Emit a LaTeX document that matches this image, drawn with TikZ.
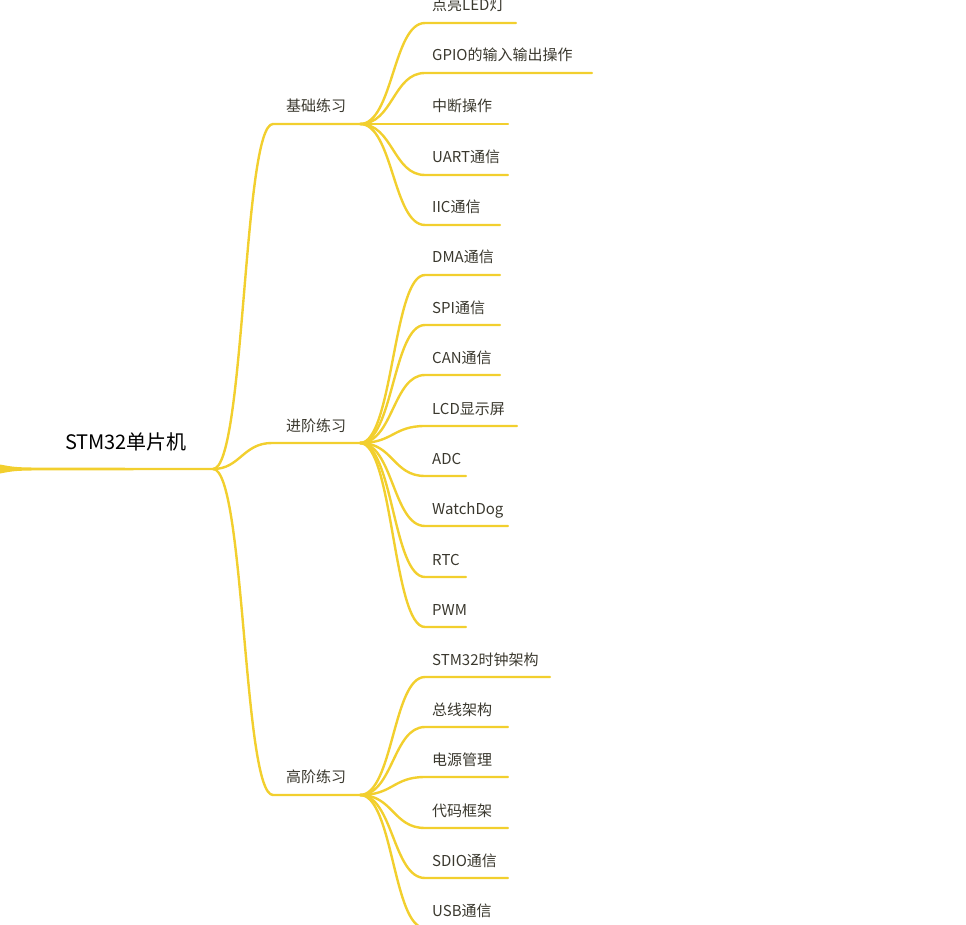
\documentclass[tikz,border=0pt]{standalone}
\usepackage{fontspec}
\setmainfont{Noto Sans CJK SC}
\usetikzlibrary{calc}
\definecolor{branch}{HTML}{F2CF2E}
\definecolor{ink}{HTML}{3A382E}

\begin{document}
\begin{tikzpicture}[x=1pt,y=-1pt,line cap=round,inner sep=0pt,
  br/.style={draw=branch,line width=2.4pt},
  topic/.style={anchor=base,text=ink,font=\fontsize{15}{17}\selectfont},
  leaf/.style={anchor=base west,text=ink,font=\fontsize{15}{17}\selectfont}]
\useasboundingbox (0,0) rectangle (966,925);
\coordinate (hub) at (213,469);
\node [anchor=base,font=\fontsize{20}{22}\selectfont] (root) at (126,449) {STM32单片机};
\fill [branch] (0,464.5) .. controls (15,467.3) .. (45,467.7) -- (213,467.8) -- (213,470.2) -- (45,470.3) .. controls (15,470.7) .. (0,473.5) -- cycle;
\node [topic] (T1) at (316,112) {基础练习};
\node [topic] (T2) at (316,431) {进阶练习};
\node [topic] (T3) at (316,782) {高阶练习};
\coordinate (K1) at (360,124);
\coordinate (K2) at (360,443);
\coordinate (K3) at (360,795);
\draw [br] (hub) .. controls (245,469) and (243,124) .. (273,124) -- (K1);
\draw [br] (hub) .. controls (240,469) and (243,443) .. (272,443) -- (K2);
\draw [br] (hub) .. controls (245,469) and (243,795) .. (273,795) -- (K3);
\node [leaf] (L1) at (432,11) {点亮LED灯};
\node [leaf] (L2) at (432,61) {GPIO的输入输出操作};
\node [leaf] (L3) at (432,112) {中断操作};
\node [leaf] (L4) at (432,163) {UART通信};
\node [leaf] (L5) at (432,213) {IIC通信};
\coordinate (E1) at (516,23);
\coordinate (E2) at (592,73);
\coordinate (E3) at (508,124);
\coordinate (E4) at (508,175);
\coordinate (E5) at (500,225);
\draw [br] (K1) .. controls (393,124) and (393,23) .. (425,23) -- (E1);
\draw [br] (K1) .. controls (393,124) and (393,73) .. (425,73) -- (E2);
\draw [br] (K1) -- (E3);
\draw [br] (K1) .. controls (393,124) and (393,175) .. (425,175) -- (E4);
\draw [br] (K1) .. controls (393,124) and (393,225) .. (425,225) -- (E5);
\node [leaf] (L6) at (432,263) {DMA通信};
\node [leaf] (L7) at (432,313) {SPI通信};
\node [leaf] (L8) at (432,363) {CAN通信};
\node [leaf] (L9) at (432,414) {LCD显示屏};
\node [leaf] (L10) at (432,464) {ADC};
\node [leaf] (L11) at (432,514) {WatchDog};
\node [leaf] (L12) at (432,565) {RTC};
\node [leaf] (L13) at (432,615) {PWM};
\coordinate (E6) at (500,275);
\coordinate (E7) at (500,325);
\coordinate (E8) at (500,375);
\coordinate (E9) at (517,426);
\coordinate (E10) at (466,476);
\coordinate (E11) at (508,526);
\coordinate (E12) at (466,577);
\coordinate (E13) at (466,627);
\draw [br] (K2) .. controls (393,443) and (393,275) .. (425,275) -- (E6);
\draw [br] (K2) .. controls (393,443) and (393,325) .. (425,325) -- (E7);
\draw [br] (K2) .. controls (393,443) and (393,375) .. (425,375) -- (E8);
\draw [br] (K2) .. controls (393,443) and (393,426) .. (425,426) -- (E9);
\draw [br] (K2) .. controls (393,443) and (393,476) .. (425,476) -- (E10);
\draw [br] (K2) .. controls (393,443) and (393,526) .. (425,526) -- (E11);
\draw [br] (K2) .. controls (393,443) and (393,577) .. (425,577) -- (E12);
\draw [br] (K2) .. controls (393,443) and (393,627) .. (425,627) -- (E13);
\node [leaf] (L14) at (432,665) {STM32时钟架构};
\node [leaf] (L15) at (432,715) {总线架构};
\node [leaf] (L16) at (432,765) {电源管理};
\node [leaf] (L17) at (432,816) {代码框架};
\node [leaf] (L18) at (432,866) {SDIO通信};
\node [leaf] (L19) at (432,916) {USB通信};
\coordinate (E14) at (550,677);
\coordinate (E15) at (508,727);
\coordinate (E16) at (508,777);
\coordinate (E17) at (508,828);
\coordinate (E18) at (508,878);
\coordinate (E19) at (500,928);
\draw [br] (K3) .. controls (393,795) and (393,677) .. (425,677) -- (E14);
\draw [br] (K3) .. controls (393,795) and (393,727) .. (425,727) -- (E15);
\draw [br] (K3) .. controls (393,795) and (393,777) .. (425,777) -- (E16);
\draw [br] (K3) .. controls (393,795) and (393,828) .. (425,828) -- (E17);
\draw [br] (K3) .. controls (393,795) and (393,878) .. (425,878) -- (E18);
\draw [br] (K3) .. controls (393,795) and (393,928) .. (425,928) -- (E19);
\end{tikzpicture}
\end{document}
